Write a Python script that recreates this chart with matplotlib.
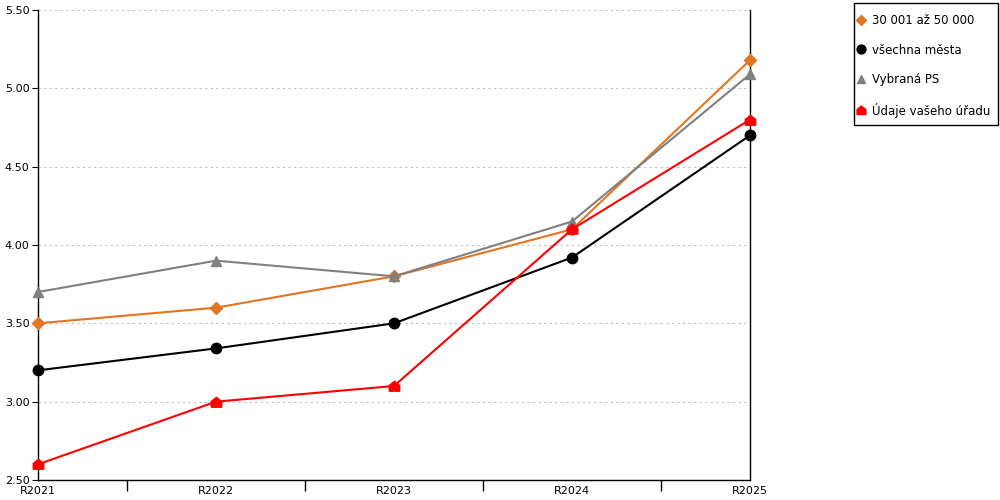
import matplotlib
matplotlib.use("Agg")
import matplotlib.pyplot as plt
from matplotlib.path import Path
from matplotlib.lines import Line2D
from matplotlib.patches import Rectangle
import numpy as np

years = ["R2021", "R2022", "R2023", "R2024", "R2025"]
mesta_30_50 = [3.50, 3.60, 3.80, 4.10, 5.18]
vsechna_mesta = [3.20, 3.34, 3.50, 3.92, 4.70]
vybrana_ps = [3.70, 3.90, 3.80, 4.15, 5.09]
vas_urad = [2.60, 3.00, 3.10, 4.10, 4.80]

labels = ["30 001 až 50 000", "všechna města", "Vybraná PS", "Údaje vašeho úřadu"]

plt.rcParams['font.family'] = ['DejaVu Sans']

# house-shaped marker (square with a roof)
house = Path([(-1, -0.9), (1, -0.9), (1, 0.2), (0, 1), (-1, 0.2), (-1, -0.9)],
             [Path.MOVETO, Path.LINETO, Path.LINETO, Path.LINETO, Path.LINETO, Path.CLOSEPOLY])

fig = plt.figure(figsize=(10, 5), dpi=100)
ax = fig.add_axes([0.038, 0.04, 0.712, 0.94])

x = np.arange(len(years))
series = [
    (mesta_30_50, "#E27522", "D", 6),
    (vsechna_mesta, "black", "o", 7.5),
    (vybrana_ps, "#808080", "^", 7.5),
    (vas_urad, "#FF0000", house, 7.5),
]
order = [2, 0, 1, 3]  # drawing order
for i in order:
    vals, col, mk, ms = series[i]
    ax.plot(x, vals, color=col, lw=1.5, marker=mk, markersize=ms,
            markerfacecolor=col, markeredgecolor=col, clip_on=False, zorder=3 + i)

ax.set_xlim(0, len(years) - 1)
ax.set_ylim(2.5, 5.5)
ax.set_yticks(np.arange(2.5, 5.51, 0.5))
ax.set_yticklabels([f"{v:.2f}" for v in np.arange(2.5, 5.51, 0.5)])
ax.set_xticks(x)
ax.set_xticklabels(years)
ax.set_xticks(x[:-1] + 0.5, minor=True)
ax.tick_params(axis='x', which='major', length=0, pad=4, labelsize=8)
ax.tick_params(axis='x', which='minor', length=8, direction='out', width=1)
ax.tick_params(axis='y', length=4, direction='out', labelsize=8, pad=2)

ax.yaxis.grid(True, color="#c0c0c0", linestyle=(0, (2, 3)), lw=0.8)
ax.set_axisbelow(True)
ax.spines['top'].set_visible(False)
for s in ['left', 'right', 'bottom']:
    ax.spines[s].set_color('black')
    ax.spines[s].set_linewidth(1)

# legend box drawn separately so the padding can match
fig.patches.append(Rectangle((0.854, 0.75), 0.144, 0.244, transform=fig.transFigure,
                             facecolor='white', edgecolor='black', lw=1, zorder=0))
handles = [Line2D([], [], color=c, marker=m, linestyle='none', markersize=ms * 0.85)
           for (_, c, m, ms) in series]
leg = fig.legend(handles, labels, loc='upper left', bbox_to_anchor=(0.856, 0.972),
                 frameon=False, fontsize=8.5,
                 handletextpad=0.55, handlelength=0.8, labelspacing=1.4,
                 borderpad=0, borderaxespad=0)

fig.savefig("out.png", dpi=100)
